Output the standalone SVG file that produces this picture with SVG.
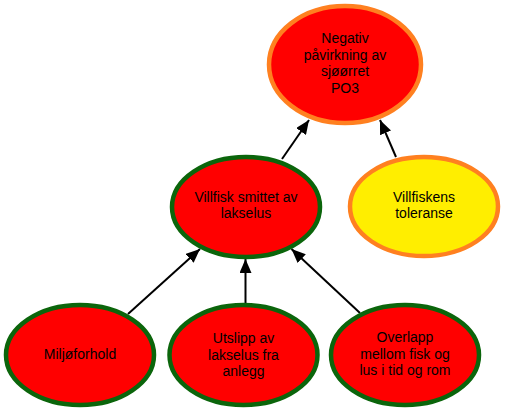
<svg xmlns="http://www.w3.org/2000/svg" width="505" height="413" viewBox="0 0 505 413">
<style>
.n ellipse{fill:#ff0000;stroke-width:4.5}
.g ellipse{stroke:#0b650b}
.o ellipse{stroke:#ff8020}
.y ellipse{fill:#ffee00}
text{font-family:"Liberation Sans",Arial,sans-serif;font-size:14px;fill:#000;text-anchor:middle}
.e line{stroke:#000;stroke-width:2;marker-end:url(#ah)}
</style>
<defs>
<marker id="ah" markerUnits="userSpaceOnUse" markerWidth="14" markerHeight="12" viewBox="0 0 14 12" refX="14" refY="6" orient="auto">
<path d="M0,0 L14,6 L0,12 Z" fill="#000"/>
</marker>
</defs>
<rect width="505" height="413" fill="#fff"/>
<g class="e" id="connectors">
<line x1="282" y1="159" x2="309" y2="120"/>
<line x1="396" y1="157" x2="380" y2="120"/>
<line x1="128" y1="314" x2="200" y2="249"/>
<line x1="245.5" y1="303" x2="245.5" y2="259"/>
<line x1="360" y1="313" x2="291.5" y2="249"/>
</g>
<g id="n1" class="n o"><ellipse cx="345" cy="64.5" rx="76" ry="58.5"/>
<text x="345" y="43">Negativ</text><text x="345" y="59.5">påvirkning av</text><text x="345" y="76">sjøørret</text><text x="345" y="92.5">PO3</text></g>
<g id="n2" class="n g"><ellipse cx="246" cy="207" rx="74" ry="50"/>
<text x="246" y="201.5">Villfisk smittet av</text><text x="246" y="218">lakselus</text></g>
<g id="n3" class="n o y"><ellipse cx="424" cy="206.5" rx="74" ry="49.5"/>
<text x="424" y="201.5">Villfiskens</text><text x="424" y="218">toleranse</text></g>
<g id="n4" class="n g"><ellipse cx="80" cy="355" rx="74" ry="50"/>
<text x="80" y="359">Miljøforhold</text></g>
<g id="n5" class="n g"><ellipse cx="243.5" cy="355" rx="74" ry="50"/>
<text x="243.5" y="343">Utslipp av</text><text x="243.5" y="359.5">lakselus fra</text><text x="243.5" y="376">anlegg</text></g>
<g id="n6" class="n g"><ellipse cx="405" cy="355" rx="74" ry="50"/>
<text x="405" y="342">Overlapp</text><text x="405" y="358.5">mellom fisk og</text><text x="405" y="375">lus i tid og rom</text></g>
</svg>
